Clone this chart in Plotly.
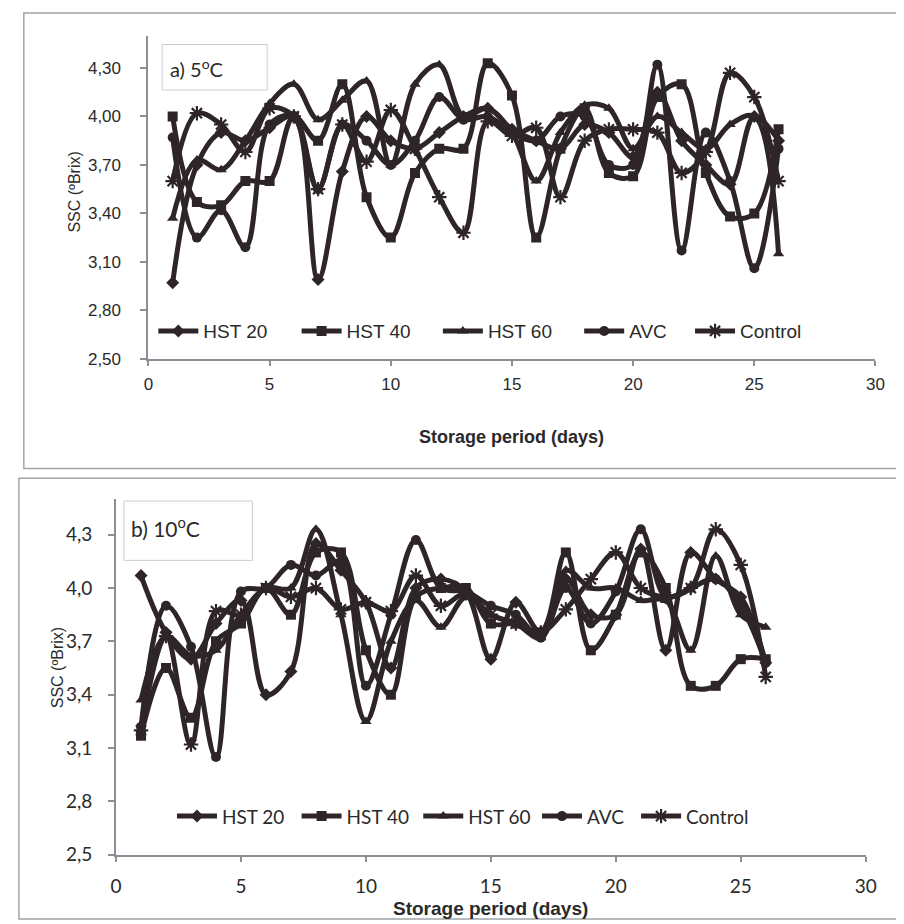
import plotly.graph_objects as go

days = list(range(1, 27))
series_names = ["HST 20", "HST 40", "HST 60", "AVC", "Control"]

# Panel a) 5 oC
a_hst20 = [2.97, 3.70, 3.90, 3.85, 3.93, 4.00, 2.99, 3.66, 4.00, 3.85, 3.80, 3.90, 4.00, 4.05, 3.92, 3.85, 3.80, 3.95, 3.90, 3.75, 4.15, 3.85, 3.70, 3.58, 4.00, 3.85]
a_hst40 = [4.00, 3.47, 3.45, 3.60, 3.60, 4.00, 3.85, 4.20, 3.50, 3.25, 3.65, 3.80, 3.80, 4.33, 4.13, 3.25, 3.80, 4.05, 3.65, 3.63, 4.12, 4.20, 3.65, 3.38, 3.40, 3.92]
a_hst60 = [3.37, 3.73, 3.67, 3.85, 4.08, 4.20, 3.98, 4.10, 4.22, 3.70, 4.20, 4.32, 4.00, 4.05, 3.90, 3.60, 3.90, 4.07, 4.05, 3.80, 4.00, 3.90, 3.80, 3.95, 4.00, 3.15]
a_avc = [3.87, 3.25, 3.42, 3.19, 3.95, 4.00, 3.55, 3.95, 3.85, 3.70, 3.85, 4.12, 3.98, 4.00, 3.90, 3.85, 4.00, 4.00, 3.70, 3.70, 4.32, 3.17, 3.90, 3.60, 3.06, 3.80]
a_control = [3.60, 4.02, 3.95, 3.78, 4.05, 4.00, 3.55, 3.95, 3.72, 4.04, 3.80, 3.50, 3.28, 3.97, 3.88, 3.93, 3.50, 3.85, 3.92, 3.92, 3.90, 3.65, 3.78, 4.27, 4.12, 3.60]

# Panel b) 10 oC
b_hst20 = [4.07, 3.75, 3.60, 3.80, 3.93, 3.40, 3.53, 4.25, 4.10, 3.92, 3.55, 4.00, 4.05, 3.98, 3.60, 3.92, 3.75, 4.05, 3.85, 3.85, 4.22, 3.65, 4.20, 4.05, 3.95, 3.58]
b_hst40 = [3.17, 3.55, 3.27, 3.70, 3.80, 4.00, 3.85, 4.20, 4.20, 3.65, 3.40, 3.95, 4.00, 4.00, 3.80, 3.80, 3.75, 4.20, 3.65, 3.85, 4.20, 4.00, 3.45, 3.45, 3.60, 3.60]
b_hst60 = [3.37, 3.73, 3.62, 3.65, 3.85, 4.00, 4.00, 4.33, 3.85, 3.25, 3.70, 3.93, 3.78, 3.95, 3.85, 3.80, 3.72, 4.10, 4.00, 4.00, 3.93, 3.93, 3.65, 4.18, 3.85, 3.78]
b_avc = [3.22, 3.90, 3.67, 3.05, 3.98, 4.00, 4.13, 4.07, 4.15, 3.45, 3.85, 4.27, 4.00, 3.98, 3.90, 3.85, 3.72, 4.00, 3.80, 3.98, 4.33, 3.95, 4.00, 4.05, 3.90, 3.58]
b_control = [3.20, 3.73, 3.12, 3.87, 3.85, 4.00, 3.95, 4.00, 3.88, 3.92, 3.87, 4.07, 3.90, 3.97, 3.85, 3.80, 3.75, 3.88, 4.05, 4.20, 4.00, 3.95, 4.00, 4.33, 4.13, 3.50]

x_tickvals = [0, 5, 10, 15, 20, 25, 30]
y_tickvals = [2.5, 2.8, 3.1, 3.4, 3.7, 4.0, 4.3]
a_yticktext = ["2,50", "2,80", "3,10", "3,40", "3,70", "4,00", "4,30"]
b_yticktext = ["2,5", "2,8", "3,1", "3,4", "3,7", "4,0", "4,3"]

symbols = ["diamond", "square", "triangle-up", "circle", "asterisk-open"]
INK = "#2e2528"
W, H = 904, 924

def px_x(p):
    return p / W

def px_y(p):
    return 1 - p / H

fig = go.Figure()

legend_ids = []

def add_panel(vals, xa, ya, start_idx):
    for i, (name, v, sym) in enumerate(zip(series_names, vals, symbols)):
        k = start_idx + i
        lid = "legend" if k == 1 else f"legend{k}"
        legend_ids.append(lid)
        fig.add_trace(go.Scatter(
            x=days, y=v, name=name, mode="lines+markers",
            line=dict(color=INK, width=5, shape="spline", smoothing=1.0),
            marker=dict(symbol=sym, size=10 if sym != "asterisk-open" else 12,
                        color=INK, line=dict(color=INK, width=2.2 if sym == "asterisk-open" else 0)),
            xaxis=xa, yaxis=ya, legend=lid, showlegend=True))

add_panel([a_hst20, a_hst40, a_hst60, a_avc, a_control], "x", "y", 1)
add_panel([b_hst20, b_hst40, b_hst60, b_avc, b_control], "x2", "y2", 6)

AXC = "#8a8f96"
fontA = dict(family="Liberation Sans, Arial", size=17, color="#2a2a2a")
fontB = dict(family="Lato, Open Sans", size=19, color="#2a2a2a")

common_x = dict(range=[0, 30], tickvals=x_tickvals, showgrid=False, zeroline=False,
                showline=True, linecolor=AXC, linewidth=2, ticks="outside", ticklen=5,
                tickcolor=AXC, tickwidth=1.5)
common_y = dict(range=[2.5, 4.5], tickvals=y_tickvals, showgrid=False, zeroline=False,
                showline=True, linecolor=AXC, linewidth=2, ticks="outside", ticklen=6,
                tickcolor=AXC, tickwidth=1.5)

layout = dict(
    width=W, height=H, margin=dict(l=0, r=0, t=0, b=0),
    paper_bgcolor="white", plot_bgcolor="white", showlegend=True,
    xaxis=dict(domain=[px_x(137), px_x(878)], anchor="y", tickfont=fontA, ticklabelstandoff=4, **common_x),
    yaxis=dict(domain=[px_y(355), px_y(28)], anchor="x", ticktext=a_yticktext, tickfont=fontA,
               ticklabelstandoff=16, **common_y),
    xaxis2=dict(domain=[px_x(104), px_x(868)], anchor="y2", tickfont=fontB, ticklabelstandoff=8, **common_x),
    yaxis2=dict(domain=[px_y(857), px_y(497)], anchor="x2", ticktext=b_yticktext, tickfont=fontB,
                ticklabelstandoff=12, **common_y),
)

# text start positions of each legend entry (pixels)
a_text_x = [203, 349, 493, 637, 750]
b_text_x = [222, 349, 473, 594, 695]
legA_font = dict(family="Liberation Sans, Arial", size=19, color="#2a2a2a")
legB_font = dict(family="Lato, Open Sans", size=19, color="#2a2a2a")
for i, lid in enumerate(legend_ids):
    if i < 5:
        xpix, ypix, f = a_text_x[i], 327, legA_font
    else:
        xpix, ypix, f = b_text_x[i - 5], 818, legB_font
    layout[lid] = dict(orientation="h", x=px_x(xpix - 61), xanchor="left", y=px_y(ypix), yanchor="middle",
                       bgcolor="rgba(0,0,0,0)", font=f, itemwidth=40)

fig.update_layout(**layout)

shapes = [
    dict(type="rect", xref="paper", yref="paper", x0=px_x(10), x1=px_x(902), y0=px_y(466), y1=px_y(5),
         line=dict(color="#a0a4a8", width=1.5)),
    dict(type="rect", xref="paper", yref="paper", x0=px_x(5), x1=px_x(902), y0=px_y(922), y1=px_y(476),
         line=dict(color="#a0a4a8", width=1.5)),
    dict(type="rect", xref="paper", yref="paper", x0=px_x(151), x1=px_x(258), y0=px_y(83), y1=px_y(37),
         line=dict(color="#c8ccd0", width=1)),
    dict(type="rect", xref="paper", yref="paper", x0=px_x(112), x1=px_x(243), y0=px_y(559), y1=px_y(499),
         line=dict(color="#c8ccd0", width=1)),
]
fig.update_layout(shapes=shapes)

ann = [
    dict(text="a) 5<sup>o</sup>C", x=px_x(157), y=px_y(61), xanchor="left", yanchor="middle",
         font=dict(family="Lato, Open Sans", size=20, color="#2a2a2a")),
    dict(text="b) 10<sup>o</sup>C", x=px_x(117), y=px_y(525), xanchor="left", yanchor="middle",
         font=dict(family="Lato, Open Sans", size=21, color="#2a2a2a")),
    dict(text="<b>Storage period (days)</b>", x=px_x(507), y=px_y(434), xanchor="center", yanchor="middle",
         font=dict(family="Liberation Sans, Arial", size=18, color="#2a2a2a")),
    dict(text="<b>Storage period (days)</b>", x=px_x(486), y=px_y(911), xanchor="center", yanchor="middle",
         font=dict(family="Liberation Sans, Arial", size=19, color="#2a2a2a")),
    dict(text="SSC (ºBrix)", x=px_x(62), y=px_y(186), textangle=-90, xanchor="center", yanchor="middle",
         font=dict(family="Liberation Sans, Arial", size=16, color="#2a2a2a")),
    dict(text="SSC (ºBrix)", x=px_x(44), y=px_y(668), textangle=-90, xanchor="center", yanchor="middle",
         font=dict(family="Liberation Sans, Arial", size=16, color="#2a2a2a")),
]
for a in ann:
    a.update(xref="paper", yref="paper", showarrow=False)
fig.update_layout(annotations=ann)

fig.write_html("out.html")
